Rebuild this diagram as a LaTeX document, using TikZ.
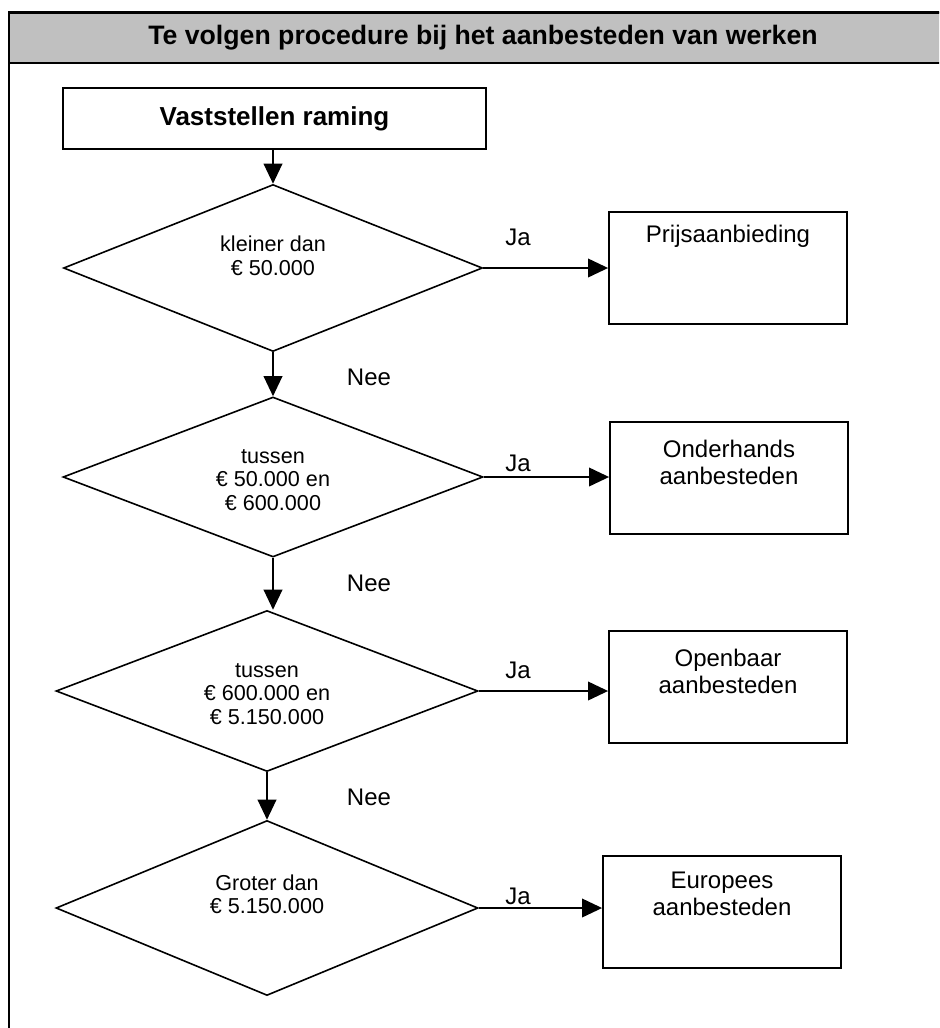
\documentclass[tikz,border=0pt]{standalone}
\usepackage{fontspec}
\setmainfont{Liberation Sans}
\usetikzlibrary{arrows.meta,shapes.geometric}
\definecolor{kopgrijs}{RGB}{192,192,192}
\tikzstyle{blok}=[draw,rectangle,line width=1.4pt,inner sep=0pt,minimum width=178.5pt,minimum height=84pt]
\tikzstyle{beslis}=[draw,diamond,line width=1.2pt,inner sep=0pt,minimum width=315pt]
\tikzstyle{pijl}=[line width=1.1pt,-{Triangle[length=15pt,width=14pt]}]
\tikzstyle{tekst}=[inner sep=0pt,align=center,font=\fontsize{18}{20.25}\selectfont]
\tikzstyle{dtekst}=[inner sep=0pt,align=center,font=\fontsize{16.2}{17.6}\selectfont]
\tikzstyle{vet}=[font=\bfseries\fontsize{19.5}{23}\selectfont]

\begin{document}
\begin{tikzpicture}[x=0.75pt,y=-0.75pt]
\useasboundingbox (0,0) rectangle (939,1028);
\clip (0,0) rectangle (939,1028);

% kader met kop
\filldraw[fill=kopgrijs,line width=1.1pt] (9,12.5) rectangle (960,63);
\draw[line width=1.6pt] (9,1040) -- (9,12.5) -- (960,12.5);
\node[vet,font=\bfseries\fontsize{20}{24}\selectfont,inner sep=0pt] (kop) at (483,38) {Te volgen procedure bij het aanbesteden van werken};

\node[blok,vet,minimum width=317.25pt,minimum height=45.75pt] (start) at (274.5,118.5) {Vaststellen raming};

% beslissingen
\node[beslis,minimum width=314.25pt,minimum height=125.25pt] (d1) at (273,268) {};
\node[dtekst] (t1) at (273,256) {kleiner dan\\€ 50.000};
\node[beslis,minimum height=120pt] (d2) at (273,477) {};
\node[dtekst] (t2) at (273,480) {tussen\\€ 50.000 en\\€ 600.000};
\node[beslis,minimum width=316.5pt,minimum height=120.75pt] (d3) at (267,691) {};
\node[dtekst] (t3) at (267,694) {tussen\\€ 600.000 en\\€ 5.150.000};
\node[beslis,minimum width=316.5pt,minimum height=131.25pt] (d4) at (267,908) {};
\node[dtekst] (t4) at (267,894.5) {Groter dan\\€ 5.150.000};

% uitkomsten
\node[blok] (b1) at (728,268) {};
\node[tekst] (bt1) at (728,236) {Prijsaanbieding};
\node[blok] (b2) at (729,478) {};
\node[tekst] (bt2) at (729,462.5) {Onderhands\\aanbesteden};
\node[blok] (b3) at (728,687) {};
\node[tekst] (bt3) at (728,671.5) {Openbaar\\aanbesteden};
\node[blok] (b4) at (722,912) {};
\node[tekst] (bt4) at (722,893.5) {Europees\\aanbesteden};

% pijlen
\draw[pijl] (d1.north |- start.south) -- (d1.north);
\draw[pijl] (d1.south) -- (d2.north);
\draw[pijl] (d2.south) -- (d2.south |- d3.north);
\draw[pijl] (d3.south) -- (d4.north);

\draw[pijl] (d1.east) -- (d1.east -| b1.west);
\draw[pijl] (d2.east) -- (d2.east -| b2.west);
\draw[pijl] (d3.east) -- (d3.east -| b3.west);
\draw[pijl] (d4.east) -- (d4.east -| b4.west);

\node[tekst] (ja1) at (518,237) {Ja};
\node[tekst] (ja2) at (518,463) {Ja};
\node[tekst] (ja3) at (518,670) {Ja};
\node[tekst] (ja4) at (518,896) {Ja};
\node[tekst] (nee1) at (369,377) {Nee};
\node[tekst] (nee2) at (369,583) {Nee};
\node[tekst] (nee3) at (369,797) {Nee};
\end{tikzpicture}
\end{document}
